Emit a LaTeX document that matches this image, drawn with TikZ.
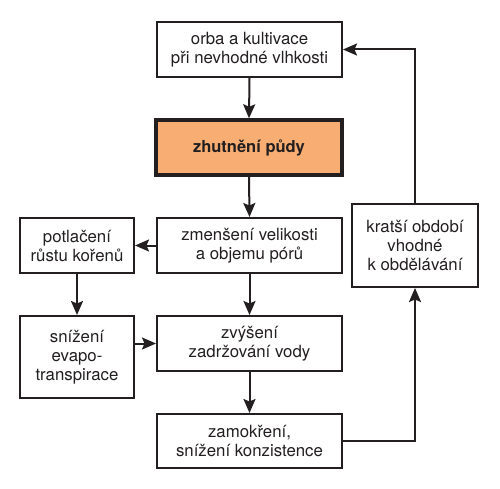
\documentclass[tikz,border=0pt]{standalone}
\usepackage{fontspec}
\setmainfont{TeX Gyre Heros}
\usetikzlibrary{arrows.meta}
\definecolor{ink}{HTML}{231F20}
\definecolor{orangefill}{HTML}{F8AE72}
\begin{document}
\begin{tikzpicture}[x=1pt,y=-1pt,
  box/.style={draw=ink,line width=2pt,fill=white,inner sep=0pt,align=center,
    font=\fontsize{16.8}{19}\selectfont,text=ink},
  keybox/.style={box,line width=3.4pt,fill=orangefill,font=\fontsize{16.5}{19}\selectfont\bfseries},
  conn/.style={draw=ink,line width=2pt,-{Stealth[length=14pt,width=12pt,inset=2.5pt]}}]
\useasboundingbox (0,0) rectangle (500,489);
\fill[white] (0,0) rectangle (500,489);
\node[box,minimum width=185pt,minimum height=55pt] (orba) at (249.5,49.5) {orba a kultivace\\při nevhodné vlhkosti};
\node[keybox,minimum width=186pt,minimum height=55pt] (zhut) at (249,147.5) {zhutnění půdy};
\node[box,minimum width=185pt,minimum height=55pt] (zmen) at (249.5,245.5) {zmenšení velikosti\\a objemu pórů};
\node[box,minimum width=114pt,minimum height=55pt] (potl) at (77,245.5) {potlačení\\růstu kořenů};
\node[box,minimum width=126pt,minimum height=83pt] (krat) at (415,245.5) {kratší období\\vhodné\\k obdělávání};
\node[box,minimum width=114pt,minimum height=82pt] (sniz) at (77,357) {snížení\\evapo-\\transpirace};
\node[box,minimum width=185pt,minimum height=55pt] (zvys) at (249.5,343.5) {zvýšení\\zadržování vody};
\node[box,minimum width=185pt,minimum height=54pt] (zamo) at (249.5,441) {zamokření,\\snížení konzistence};
\draw[conn] (orba.south) -- (zhut.north);
\draw[conn] (zhut.south) -- (zmen.north);
\draw[conn] (zmen.west) -- (potl.east);
\draw[conn] (zmen.south) -- (zvys.north);
\draw[conn] (potl.south) -- (sniz.north);
\draw[conn] (sniz.east |- zvys.west) -- (zvys.west);
\draw[conn] (zvys.south) -- (zamo.north);
\draw[conn] (zamo.east) -| (krat.south);
\draw[conn] (krat.north) |- (orba.east);
\end{tikzpicture}
\end{document}
